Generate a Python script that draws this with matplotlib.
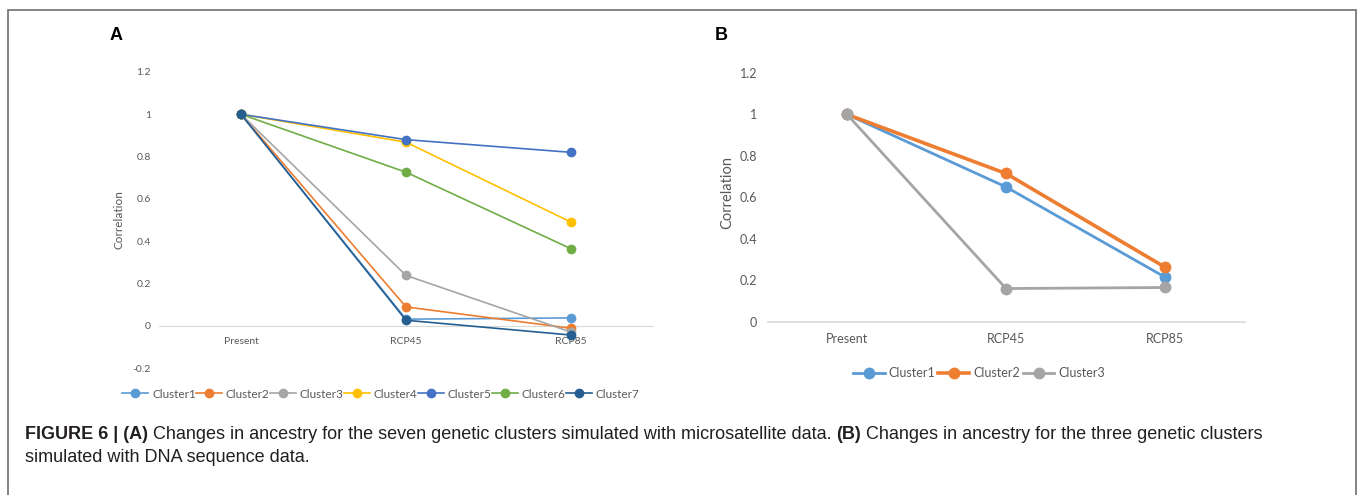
import matplotlib
matplotlib.use('Agg')
import matplotlib.pyplot as plt
from matplotlib.patches import Rectangle

plt.rcParams['font.family'] = ['Lato', 'DejaVu Sans']

# data
categories = ['Present', 'RCP45', 'RCP85']

clusters_a = ['Cluster1', 'Cluster2', 'Cluster3', 'Cluster4', 'Cluster5', 'Cluster6', 'Cluster7']
values_a = [
    [1, 0.031, 0.037],
    [1, 0.089, -0.012],
    [1, 0.238, -0.03],
    [1, 0.868, 0.49],
    [1, 0.88, 0.82],
    [1, 0.726, 0.364],
    [1, 0.026, -0.044],
]
colors_a = ['#5B9BD5', '#ED7D31', '#A5A5A5', '#FFC000', '#4472C4', '#70AD47', '#255E91']
yticks_a = [-0.2, 0, 0.2, 0.4, 0.6, 0.8, 1, 1.2]

clusters_b = ['Cluster1', 'Cluster2', 'Cluster3']
values_b = [
    [1, 0.65, 0.215],
    [1, 0.715, 0.263],
    [1, 0.16, 0.165],
]
colors_b = ['#5B9BD5', '#ED7D31', '#A5A5A5']
widths_b = [2.0, 2.6, 2.0]
yticks_b = [0, 0.2, 0.4, 0.6, 0.8, 1, 1.2]

W, H = 1358, 495
fig = plt.figure(figsize=(W / 100, H / 100), dpi=100)


def px_axes(left, top, right, bottom):
    # pixel box -> figure fraction
    return fig.add_axes([left / W, 1 - bottom / H, (right - left) / W, (bottom - top) / H])


def fmt(v):
    return ('%g' % v)


def style_axes(ax, yticks, fs):
    for s in ['top', 'right', 'left']:
        ax.spines[s].set_visible(False)
    ax.spines['bottom'].set_position(('data', 0))
    ax.spines['bottom'].set_color('#D9D9D9')
    ax.set_xticks(range(len(categories)))
    ax.set_xticklabels(categories)
    ax.set_yticks(yticks)
    ax.set_yticklabels([fmt(v) for v in yticks])
    ax.tick_params(axis='both', length=0, labelsize=fs, colors='#595959')
    ax.tick_params(axis='x', pad=8)


# ---- panel A ----
axA = px_axes(158.5, 61.4, 653.5, 378.6)
for name, vals, c in zip(clusters_a, values_a, colors_a):
    axA.plot(range(len(categories)), vals, color=c, lw=1.2, marker='o', ms=6, label=name, zorder=3)
axA.set_xlim(-0.5, 2.5)
axA.set_ylim(-0.25, 1.25)
style_axes(axA, yticks_a, 7.5)
axA.tick_params(axis='y', pad=5.4)
axA.set_ylabel('Correlation', fontsize=8.5, color='#595959', labelpad=6)
hA, lA = axA.get_legend_handles_labels()
fig.legend(hA, lA, loc='center', bbox_to_anchor=(381 / W, 1 - 394 / H), ncol=7, frameon=False,
           fontsize=8.5, handlelength=2.2, handletextpad=0.3, columnspacing=0.05,
           labelcolor='#595959')
fig.text(110 / W, 1 - 35 / H, 'A', fontsize=13, fontweight='bold', va='center', ha='left',
         family=['Liberation Sans', 'DejaVu Sans'])

# ---- panel B ----
axB = px_axes(767.5, 62.6, 1244.5, 321.7)
for name, vals, c, w in zip(clusters_b, values_b, colors_b, widths_b):
    axB.plot(range(len(categories)), vals, color=c, lw=w, marker='o', ms=7.5, label=name, zorder=3)
axB.set_xlim(-0.5, 2.5)
axB.set_ylim(0, 1.25)
style_axes(axB, yticks_b, 9)
axB.spines['bottom'].set_linewidth(1.2)
axB.tick_params(axis='y', pad=7.5)
axB.set_ylabel('Correlation', fontsize=10.5, color='#595959', labelpad=4)
hB, lB = axB.get_legend_handles_labels()
fig.legend(hB, lB, loc='center', bbox_to_anchor=(979 / W, 1 - 373 / H), ncol=3, frameon=False,
           fontsize=9, handlelength=2.5, handletextpad=0.3, columnspacing=0.25,
           labelcolor='#595959')
fig.text(715 / W, 1 - 35 / H, 'B', fontsize=13, fontweight='bold', va='center', ha='left',
         family=['Liberation Sans', 'DejaVu Sans'])

# ---- border ----
fig.patches.append(Rectangle((8 / W, -0.05), (1356 - 8) / W, 1.05 - 10 / H, transform=fig.transFigure,
                             fill=False, edgecolor='#6E6E6E', linewidth=1.2))

# ---- caption, bold and regular pieces chained ----
cap = fig.add_axes([0, 0, 1, 1])
cap.axis('off')
cfs = 13
cfam = ['Liberation Sans', 'DejaVu Sans']
line1 = [('FIGURE 6 | (A)', 'bold'),
         (' Changes in ancestry for the seven genetic clusters simulated with microsatellite data. ', 'normal'),
         ('(B)', 'bold'),
         (' Changes in ancestry for the three genetic clusters', 'normal')]
prev = None
for txt, wgt in line1:
    if prev is None:
        prev = cap.text(25 / W, 1 - 439 / H, txt, fontsize=cfs, fontweight=wgt, family=cfam,
                        color='#231F20', ha='left', va='baseline', transform=fig.transFigure)
    else:
        prev = cap.annotate(txt, xy=(1, 0), xycoords=prev, fontsize=cfs, fontweight=wgt, family=cfam,
                            color='#231F20', ha='left', va='bottom')
cap.text(25 / W, 1 - 462 / H, 'simulated with DNA sequence data.', fontsize=cfs, family=cfam,
         color='#231F20', ha='left', va='baseline', transform=fig.transFigure)

fig.savefig('out.png', dpi=100)
